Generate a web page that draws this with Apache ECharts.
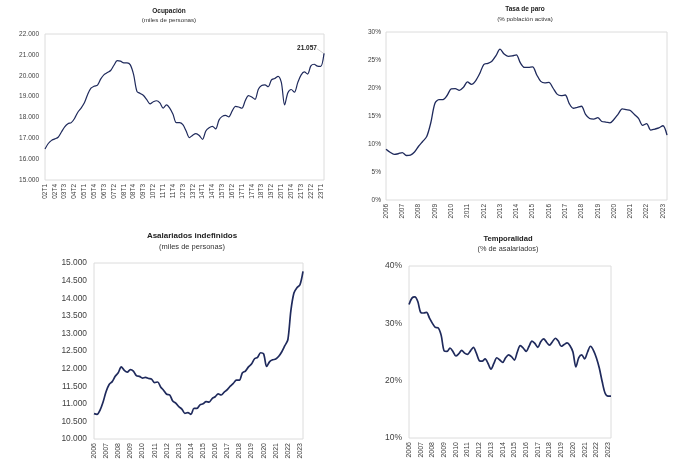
<!DOCTYPE html>
<html>
<head>
<meta charset="utf-8">
<script src="https://cdn.jsdelivr.net/npm/echarts@6/dist/echarts.min.js"></script>
<style>
  html, body { margin: 0; padding: 0; background: #fff; }
  #main { width: 680px; height: 476px; }
</style>
</head>
<body>
<div id="main"></div>
<script>
// trimestres 2002T1..2023T2 (ocupación) y 2006T1..2023T2 (resto)
function trimestres(desde, hasta, ultimoT, corto) {
    var out = [];
    for (var a = desde; a <= hasta; a++) {
        for (var t = 1; t <= 4; t++) {
            if (a === hasta && t > ultimoT) break;
            out.push((corto ? String(a).slice(2) : a) + 'T' + t);
        }
    }
    return out;
}
var catOcupacion = trimestres(2002, 2023, 2, true);
var catTrim = trimestres(2006, 2023, 2, false);

// miles de personas
var ocupacion = [16490, 16750, 16900, 16970, 17050, 17300, 17550, 17700, 17750, 17950, 18250, 18450,
    18700, 19100, 19400, 19500, 19550, 19850, 20050, 20150, 20250, 20500, 20720, 20700,
    20620, 20620, 20520, 20050, 19250, 19150, 19050, 18850, 18650, 18750, 18800, 18700,
    18450, 18600, 18450, 18150, 17750, 17750, 17650, 17350, 17030, 17150, 17220, 17130,
    16950, 17350, 17500, 17570, 17450, 17870, 18050, 18100, 18030, 18300, 18530, 18500,
    18440, 18800, 19050, 18980, 18870, 19350, 19530, 19560, 19470, 19800, 19870, 19970,
    19680, 18600, 19180, 19340, 19210, 19670, 20030, 20180, 20080, 20470, 20550, 20460,
    20450, 21057];

// % población activa
var paro = [9.07, 8.53, 8.15, 8.26, 8.47, 7.95, 8.03, 8.57, 9.60, 10.44, 11.33, 13.79,
    17.24, 17.92, 17.93, 18.66, 19.84, 19.89, 19.59, 20.11, 21.08, 20.64, 21.28, 22.56,
    24.19, 24.40, 24.79, 25.77, 26.94, 26.06, 25.65, 25.73, 25.93, 24.47, 23.67, 23.70,
    23.78, 22.37, 21.18, 20.90, 21.00, 20.00, 18.91, 18.63, 18.75, 17.22, 16.38, 16.55,
    16.74, 15.28, 14.55, 14.45, 14.70, 14.02, 13.92, 13.78, 14.41, 15.33, 16.26, 16.13,
    15.98, 15.26, 14.57, 13.33, 13.65, 12.48, 12.67, 12.87, 13.26, 11.60];

// miles de personas
var indefinidos = [10720, 10700, 10820, 11050, 11350, 11550, 11630, 11780, 11880, 12050, 11950, 11900,
    11970, 11930, 11800, 11780, 11730, 11750, 11720, 11700, 11600, 11620, 11480, 11380,
    11270, 11250, 11080, 11020, 10920, 10850, 10730, 10750, 10700, 10870, 10870, 10970,
    11000, 11060, 11050, 11150, 11200, 11280, 11250, 11330, 11400, 11500, 11580, 11670,
    11670, 11880, 11930, 12050, 12130, 12280, 12320, 12450, 12420, 12060, 12200, 12250,
    12270, 12350, 12480, 12650, 12820, 13650, 14150, 14300, 14380, 14760];

// % de asalariados
var temporalidad = [33.3, 34.4, 34.6, 33.8, 31.9, 31.8, 31.9, 30.9, 30.0, 29.3, 29.2, 27.9,
    25.2, 25.1, 25.7, 25.1, 24.3, 24.7, 25.3, 24.8, 24.6, 25.2, 25.8, 24.8,
    23.5, 23.4, 23.8, 23.0, 22.0, 23.0, 24.0, 23.6, 23.2, 24.0, 24.5, 24.2,
    23.6, 25.0, 26.1, 25.7, 25.1, 26.0, 26.9, 26.5, 25.8, 26.8, 27.3, 26.7,
    26.2, 26.8, 27.4, 26.9, 26.0, 26.3, 26.6, 26.1, 25.0, 22.4, 24.0, 24.5,
    23.8, 25.0, 26.0, 25.3, 24.0, 22.2, 19.8, 17.8, 17.3, 17.3];

var LINEA = '#1f2a5c';
var FUENTE = 'Liberation Sans, Arial, sans-serif';
var ESTRECHA = 'Liberation Sans Narrow, Liberation Sans, Arial, sans-serif';

function miles(v) {
    return String(v).replace(/\B(?=(\d{3})+(?!\d))/g, '.');
}

function titulo(texto, sub, x, y, tam, tamSub, gap, fuente) {
    return {
        text: texto, subtext: sub, left: x, top: y, textAlign: 'center',
        padding: 0, itemGap: gap,
        textStyle: { fontSize: tam, fontWeight: 'bold', color: '#222', fontFamily: fuente },
        subtextStyle: { fontSize: tamSub, color: '#333', fontFamily: fuente }
    };
}

function ejeX(idx, cats, intervalo, formato, tam, fuente) {
    return {
        type: 'category', gridIndex: idx, data: cats, boundaryGap: false,
        axisLine: { show: false }, axisTick: { show: false },
        axisLabel: {
            interval: intervalo, rotate: 90, margin: 4, fontSize: tam,
            color: '#404040', fontFamily: fuente, formatter: formato
        }
    };
}

function ejeY(idx, min, max, paso, formato, tam, margen, fuente) {
    return {
        type: 'value', gridIndex: idx, min: min, max: max, interval: paso,
        splitLine: { show: false }, axisLine: { show: false }, axisTick: { show: false },
        axisLabel: { fontSize: tam, color: '#404040', margin: margen, fontFamily: fuente, formatter: formato }
    };
}

var caja = { show: true, borderColor: '#dcdcdc', borderWidth: 1, containLabel: false };

var myChart = echarts.init(document.getElementById('main'));

// solo el último punto lleva etiqueta
var datosOcupacion = ocupacion.map(function (v, i) {
    if (i === ocupacion.length - 1) {
        return {
            value: v,
            symbol: 'circle',
            symbolSize: 1,
            itemStyle: { color: LINEA },
            label: {
                show: true, position: 'top', distance: 4, fontSize: 6.5, fontWeight: 'bold', color: '#222',
                fontFamily: FUENTE, formatter: function (p) { return miles(p.value); }
            },
            labelLine: { show: true, lineStyle: { color: '#bdbdbd', width: 0.7 } }
        };
    }
    return { value: v, symbol: 'none' };
});

var option = {
    backgroundColor: '#fff',
    animation: false,
    title: [
        titulo('Ocupación', '(miles de personas)', 169, 8, 6.5, 6.2, 2.3, FUENTE),
        titulo('Tasa de paro', '(% población activa)', 525, 6, 6.5, 6.2, 3, ESTRECHA),
        titulo('Asalariados indefinidos', '(miles de personas)', 192, 232, 8, 7.5, 3, FUENTE),
        titulo('Temporalidad', '(% de asalariados)', 508, 235, 7.6, 7.3, 2.5, FUENTE)
    ],
    grid: [
        Object.assign({ left: 45, right: 356, top: 34, bottom: 296 }, caja),
        Object.assign({ left: 386, right: 13, top: 32, bottom: 276 }, caja),
        Object.assign({ left: 94, right: 377, top: 263, bottom: 37 }, caja),
        Object.assign({ left: 409, right: 69, top: 266, bottom: 38 }, caja)
    ],
    xAxis: [
        ejeX(0, catOcupacion, 2, null, 6.5, FUENTE),
        ejeX(1, catTrim, 3, function (v) { return v.slice(0, 4); }, 6.5, ESTRECHA),
        ejeX(2, catTrim, 3, function (v) { return v.slice(0, 4); }, 7, FUENTE),
        ejeX(3, catTrim, 3, function (v) { return v.slice(0, 4); }, 7, FUENTE)
    ],
    yAxis: [
        ejeY(0, 15000, 22000, 1000, miles, 6.5, 6, FUENTE),
        ejeY(1, 0, 30, 5, '{value}%', 6.5, 5, ESTRECHA),
        ejeY(2, 10000, 15000, 500, miles, 8.4, 7, FUENTE),
        ejeY(3, 10, 40, 10, '{value}%', 8.5, 7, FUENTE)
    ],
    series: [
        {
            type: 'line', xAxisIndex: 0, yAxisIndex: 0, data: datosOcupacion,
            showSymbol: true, showAllSymbol: true, smooth: 0.3,
            lineStyle: { color: LINEA, width: 1.2 },
            labelLayout: { dx: -17, dy: 3 }
        },
        {
            type: 'line', xAxisIndex: 1, yAxisIndex: 1, data: paro,
            symbol: 'none', smooth: 0.3, lineStyle: { color: LINEA, width: 1.3 }
        },
        {
            type: 'line', xAxisIndex: 2, yAxisIndex: 2, data: indefinidos,
            symbol: 'none', smooth: 0.3, lineStyle: { color: LINEA, width: 1.7 }
        },
        {
            type: 'line', xAxisIndex: 3, yAxisIndex: 3, data: temporalidad,
            symbol: 'none', smooth: 0.3, lineStyle: { color: LINEA, width: 1.7 }
        }
    ]
};

myChart.setOption(option);
</script>
</body>
</html>
